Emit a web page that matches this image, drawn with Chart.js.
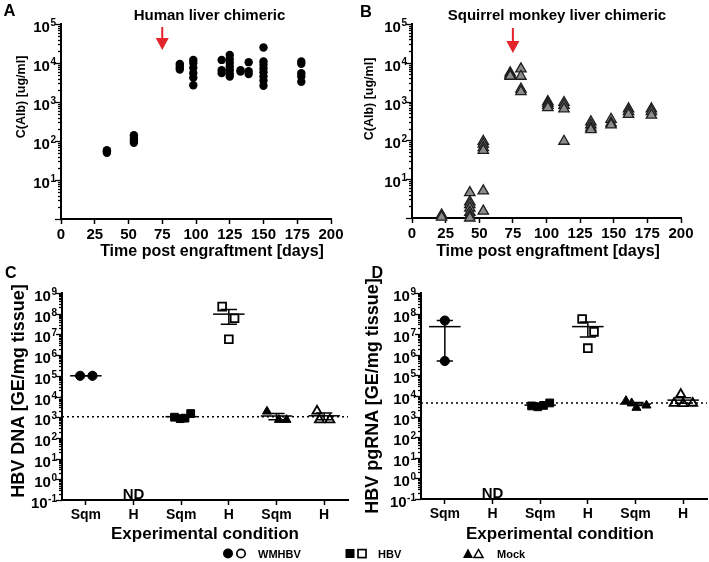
<!DOCTYPE html>
<html>
<head>
<meta charset="utf-8">
<script src="https://cdn.jsdelivr.net/npm/chart.js@4.4.1/dist/chart.umd.min.js"></script>
<style>
  body { margin: 0; background: #fff; }
  #fig { position: relative; width: 709px; height: 562px; overflow: hidden; font-family: 'Liberation Sans', Arial, sans-serif; font-weight: bold; color: #000; }
  #fig canvas, #fig svg { position: absolute; }
  .t { position: absolute; white-space: nowrap; line-height: 1; }
  .c { transform: translateX(-50%); }
  .r { transform: translate(-50%, -50%) rotate(-90deg); }
</style>
</head>
<body>
<div id="fig">
  <canvas id="chartA" width="350" height="270" style="left:0;top:0"></canvas>
  <canvas id="chartB" width="359" height="270" style="left:350px;top:0"></canvas>
  <canvas id="chartC" width="350" height="280" style="left:0;top:270px"></canvas>
  <canvas id="chartD" width="359" height="280" style="left:350px;top:270px"></canvas>

  <div class="t" style="left:3.5px;top:2px;font-size:16.5px">A</div>
  <div class="t" style="left:360px;top:3px;font-size:16.5px">B</div>
  <div class="t" style="left:5px;top:264.5px;font-size:16px">C</div>
  <div class="t" style="left:371.5px;top:264.5px;font-size:16px">D</div>

  <div class="t c" style="left:209.5px;top:7.3px;font-size:15px">Human liver chimeric</div>
  <div class="t c" style="left:557px;top:7.3px;font-size:15px">Squirrel monkey liver chimeric</div>

  <div class="t r" style="left:21px;top:97px;font-size:12.5px">C(Alb) [ug/ml]</div>
  <div class="t r" style="left:369px;top:99px;font-size:12.5px">C(Alb) [ug/ml]</div>
  <div class="t r" style="left:18px;top:391px;font-size:18px">HBV DNA [GE/mg tissue]</div>
  <div class="t r" style="left:372px;top:396px;font-size:18px">HBV pgRNA [GE/mg tissue]</div>

  <div class="t c" style="left:212px;top:243px;font-size:16px">Time post engraftment [days]</div>
  <div class="t c" style="left:548px;top:243px;font-size:16px">Time post engraftment [days]</div>
  <div class="t c" style="left:205px;top:525px;font-size:17px">Experimental condition</div>
  <div class="t c" style="left:560px;top:525px;font-size:17px">Experimental condition</div>

  <svg width="709" height="22" style="left:0;top:540px" font-family="'Liberation Sans', Arial, sans-serif" font-weight="bold" font-size="11">
    <circle cx="228" cy="13.5" r="5" fill="#000"/>
    <circle cx="241" cy="13.5" r="4.2" fill="#fff" stroke="#000" stroke-width="1.7"/>
    <text x="258" y="18.3">WMHBV</text>
    <rect x="345.5" y="9" width="9" height="9" fill="#000"/>
    <rect x="358" y="9.6" width="8" height="8" fill="#fff" stroke="#000" stroke-width="1.7"/>
    <text x="378" y="18.3">HBV</text>
    <polygon points="468,8.5 463,18 473,18" fill="#000"/>
    <polygon points="478.5,9.5 474,17.5 483,17.5" fill="#fff" stroke="#000" stroke-width="1.5"/>
    <text x="497" y="18.3">Mock</text>
  </svg>
</div>

<script>
const FONT = "'Liberation Sans', Arial, sans-serif";

// A: human liver chimeric mice, C(Alb) per bleeding day
const A_DAYS = [34, 54, 88, 98, 119, 125, 133, 139, 150, 178];
const A_ALB = [
  [50, 55, 58],
  [90, 105, 120, 140],
  [9500, 8500, 7500, 6800],
  [12000, 10000, 7500, 5500, 4200, 2700],
  [12000, 6500, 5500],
  [16000, 12500, 10000, 8000, 6500, 5200, 4500],
  [6500, 6000],
  [10500, 6200, 5200],
  [25000, 11000, 9000, 7200, 5800, 4500, 3500, 2600],
  [11000, 9500, 5500, 4500, 3300],
];

// B: squirrel monkey liver chimeric mice
const B_DAYS = [22, 43, 53, 73, 81, 101, 113, 133, 148, 161, 178];
const B_ALB = [
  [1.2, 1.05],
  [4.5, 2.6, 2.2, 1.8, 1.4, 1.15, 1.0],
  [95, 80, 65, 55, 5, 1.5],
  [5500, 5000, 4700, 4500],
  [7000, 4500, 2100, 1800],
  [1000, 900, 800, 700],
  [950, 800, 650, 95],
  [300, 250, 210, 190],
  [350, 280, 250],
  [650, 550, 470],
  [650, 550, 450],
];

const INJECTION_DAY = 75;

// C / D: tissue levels per condition
const CATS = ['Sqm', 'H', 'Sqm', 'H', 'Sqm', 'H'];

const C_WMHBV_SQM_X = [0.88, 1.14];
const C_WMHBV_SQM = [1e5, 1e5];
const C_HBV_SQM_X = [2.86, 2.98, 3.08, 3.2];
const C_HBV_SQM = [1000, 850, 900, 1500];
const C_HBV_H_X = [3.86, 4.12, 4.0];
const C_HBV_H = [2.2e8, 6e7, 5.8e6];
const C_MOCK_SQM_X = [4.8, 5.05, 5.21];
const C_MOCK_SQM = [1900, 750, 750];
const C_MOCK_H_X = [5.85, 5.9, 6.12];
const C_MOCK_H = [2000, 750, 750];
const C_LOD = 1050;

const D_WMHBV_SQM_X = [1.0, 1.0];
const D_WMHBV_SQM = [4.6e7, 5e5];
const D_HBV_SQM_X = [2.82, 2.95, 3.07, 3.2];
const D_HBV_SQM = [3300, 3000, 3500, 4600];
const D_HBV_H_X = [3.88, 4.13, 4.0];
const D_HBV_H = [5.5e7, 1.3e7, 2.1e6];
const D_MOCK_SQM_X = [4.8, 4.92, 5.02, 5.23];
const D_MOCK_SQM = [5800, 4500, 2700, 3500];
const D_MOCK_H_X = [5.95, 5.81, 6.0, 6.2];
const D_MOCK_H = [12000, 4400, 4300, 4500];
const D_LOD = 4600;

const MEAN_HALF = 0.33;
const CAP_HALF = 0.17;

const MARKS = {
  wmhbv: { shape: 'circle', r: 4.6, fill: '#000' },
  hbvSqm: { shape: 'rect', r: 5.5, fill: '#000' },
  hbvH: { shape: 'rect', r: 5.5, fill: '#fff' },
  mockSqm: { shape: 'triangle', r: 5.2, fill: '#000' },
  mockH: { shape: 'triangle', r: 5.2, fill: '#fff' },
};

// y axis: log tick marks (minor every 1..9) and 10^n labels
const logTicks = {
  id: 'logTicks',
  afterDraw(chart, _args, opts) {
    const s = chart.scales.y;
    const ctx = chart.ctx;
    const x0 = s.right;
    const e0 = Math.round(Math.log10(s.min));
    const e1 = Math.round(Math.log10(s.max));
    ctx.save();
    ctx.strokeStyle = '#000';
    ctx.fillStyle = '#000';
    ctx.lineWidth = 1.3;
    for (let e = e0; e <= e1; e++) {
      for (let m = 1; m <= 9; m++) {
        const v = m * Math.pow(10, e);
        if (v > s.max * 1.001) break;
        const y = Math.round(s.getPixelForValue(v)) + 0.5;
        ctx.beginPath();
        ctx.moveTo(x0, y);
        ctx.lineTo(x0 - (m === 1 ? 6 : 3), y);
        ctx.stroke();
      }
      if (e < opts.firstLabel) continue;
      const y = s.getPixelForValue(Math.pow(10, e));
      const xr = x0 - 5;
      ctx.textAlign = 'right';
      ctx.textBaseline = 'alphabetic';
      ctx.font = `bold 10px ${FONT}`;
      const we = ctx.measureText(String(e)).width;
      ctx.fillText(String(e), xr, y + 2);
      ctx.font = `bold 15px ${FONT}`;
      ctx.fillText('10', xr - we - 0.5, y + 8);
    }
    ctx.restore();
  },
};

// red arrow marking the infection day
const arrow = {
  id: 'arrow',
  afterDraw(chart, _args, opts) {
    if (opts.day == null) return;
    const ctx = chart.ctx;
    const x = chart.scales.x.getPixelForValue(opts.day);
    ctx.save();
    ctx.strokeStyle = '#e3242b';
    ctx.fillStyle = '#e3242b';
    ctx.lineWidth = 2;
    ctx.beginPath();
    ctx.moveTo(x, opts.top);
    ctx.lineTo(x, opts.tip - 8);
    ctx.stroke();
    ctx.beginPath();
    ctx.moveTo(x - 6.5, opts.tip - 12);
    ctx.lineTo(x + 6.5, opts.tip - 12);
    ctx.lineTo(x, opts.tip);
    ctx.closePath();
    ctx.fill();
    ctx.restore();
  },
};

// "ND" (not detected) note above a category
const notDetected = {
  id: 'notDetected',
  afterDraw(chart, _args, opts) {
    if (opts.cat == null) return;
    const ctx = chart.ctx;
    ctx.save();
    ctx.fillStyle = '#000';
    ctx.font = `bold 15px ${FONT}`;
    ctx.textAlign = 'center';
    ctx.textBaseline = 'alphabetic';
    ctx.fillText('ND', chart.scales.x.getPixelForValue(opts.cat), chart.chartArea.bottom - 1);
    ctx.restore();
  },
};

function flatPoints(days, values) {
  return days.flatMap((d, i) => values[i].map(v => ({ x: d, y: v })));
}

function yScale(min, max, width) {
  return {
    type: 'logarithmic',
    min,
    max,
    ticks: { display: false },
    grid: { display: false },
    border: { display: true, color: '#000', width: 2 },
    afterFit: s => { s.width = width; },
  };
}

function xScale(extra, height) {
  return Object.assign({
    type: 'linear',
    grid: { display: true, drawOnChartArea: false, drawTicks: true, tickLength: 5, color: '#000', tickWidth: 1.5 },
    border: { display: true, color: '#000', width: 2 },
    afterFit: s => { s.height = height; },
  }, extra);
}

function tickFont(size) {
  return { color: '#000', font: { family: FONT, size, weight: 'bold' }, padding: 2, maxRotation: 0, autoSkip: false };
}

function baseOptions(padding, scales, pluginOpts) {
  return {
    responsive: false,
    animation: false,
    events: [],
    layout: { padding, autoPadding: false },
    scales,
    plugins: Object.assign({ legend: { display: false }, tooltip: { enabled: false } }, pluginOpts),
  };
}

function timeChart(id, days, values, mark, opts) {
  new Chart(document.getElementById(id), {
    type: 'scatter',
    data: {
      datasets: [{
        data: flatPoints(days, values),
        pointStyle: mark.shape,
        pointRadius: mark.r,
        backgroundColor: mark.fill,
        borderColor: mark.border,
        borderWidth: mark.borderWidth,
        clip: false,
      }],
    },
    options: baseOptions(
      { left: 0, top: 24, right: opts.right, bottom: 0 },
      {
        x: xScale({ min: 0, max: 200, ticks: Object.assign({ stepSize: 25 }, tickFont(15)) }, opts.xHeight),
        y: yScale(1, 1e5, opts.yWidth),
      },
      { logTicks: { firstLabel: 1 }, arrow: { day: INJECTION_DAY, top: opts.arrowTop, tip: opts.arrowTip }, notDetected: {} },
    ),
    plugins: [logTicks, arrow, notDetected],
  });
}

function groupSets(cat, xs, ys, mark) {
  const n = ys.length;
  const mean = ys.reduce((a, b) => a + b, 0) / n;
  const sd = Math.sqrt(ys.reduce((a, v) => a + (v - mean) ** 2, 0) / (n - 1));
  const sem = sd / Math.sqrt(n);
  const hi = mean + sem;
  const lo = Math.max(mean - sem, mean * 0.01);
  const line = { showLine: true, pointRadius: 0, borderColor: '#000', borderWidth: 1.5, spanGaps: false, clip: false };
  return [
    Object.assign({ data: [{ x: cat - MEAN_HALF, y: mean }, { x: cat + MEAN_HALF, y: mean }] }, line),
    Object.assign({
      data: [
        { x: cat - CAP_HALF, y: hi }, { x: cat + CAP_HALF, y: hi }, { x: cat, y: null },
        { x: cat, y: hi }, { x: cat, y: lo }, { x: cat, y: null },
        { x: cat - CAP_HALF, y: lo }, { x: cat + CAP_HALF, y: lo },
      ],
    }, line),
    {
      data: xs.map((x, i) => ({ x, y: ys[i] })),
      pointStyle: mark.shape,
      pointRadius: mark.r,
      backgroundColor: mark.fill,
      borderColor: '#000',
      borderWidth: mark.fill === '#fff' ? 1.8 : 1,
      clip: false,
    },
  ];
}

function tissueChart(id, groups, lod, opts) {
  const lodLine = {
    data: [{ x: 0.5, y: lod }, { x: 6.5, y: lod }],
    showLine: true, pointRadius: 0, borderColor: '#000', borderWidth: 1.5, borderDash: [2, 3],
  };
  const datasets = [lodLine];
  groups.forEach(g => datasets.push(...groupSets(...g)));
  new Chart(document.getElementById(id), {
    type: 'scatter',
    data: { datasets },
    options: baseOptions(
      { left: 0, top: 23, right: 2, bottom: 0 },
      {
        x: xScale({
          min: 0.5,
          max: 6.5,
          afterBuildTicks: s => { s.ticks = CATS.map((_, i) => ({ value: i + 1 })); },
          ticks: Object.assign({ callback: v => CATS[v - 1] ?? '' }, tickFont(14)),
        }, opts.xHeight),
        y: yScale(0.1, 1e9, opts.yWidth),
      },
      { logTicks: { firstLabel: -1 }, arrow: {}, notDetected: { cat: 2 } },
    ),
    plugins: [logTicks, arrow, notDetected],
  });
}

timeChart('chartA', A_DAYS, A_ALB,
  { shape: 'circle', r: 4.2, fill: '#000', border: '#000', borderWidth: 0 },
  { right: 19, xHeight: 51, yWidth: 61, arrowTop: 27, arrowTip: 50 });

timeChart('chartB', B_DAYS, B_ALB,
  { shape: 'triangle', r: 6, fill: '#8c8c8c', border: '#1e1e1e', borderWidth: 1.3 },
  { right: 28, xHeight: 52, yWidth: 62, arrowTop: 28, arrowTip: 53 });

tissueChart('chartC', [
  [1, C_WMHBV_SQM_X, C_WMHBV_SQM, MARKS.wmhbv],
  [3, C_HBV_SQM_X, C_HBV_SQM, MARKS.hbvSqm],
  [4, C_HBV_H_X, C_HBV_H, MARKS.hbvH],
  [5, C_MOCK_SQM_X, C_MOCK_SQM, MARKS.mockSqm],
  [6, C_MOCK_H_X, C_MOCK_H, MARKS.mockH],
], C_LOD, { xHeight: 50, yWidth: 62 });

tissueChart('chartD', [
  [1, D_WMHBV_SQM_X, D_WMHBV_SQM, MARKS.wmhbv],
  [3, D_HBV_SQM_X, D_HBV_SQM, MARKS.hbvSqm],
  [4, D_HBV_H_X, D_HBV_H, MARKS.hbvH],
  [5, D_MOCK_SQM_X, D_MOCK_SQM, MARKS.mockSqm],
  [6, D_MOCK_H_X, D_MOCK_H, MARKS.mockH],
], D_LOD, { xHeight: 51, yWidth: 71 });
</script>
</body>
</html>
